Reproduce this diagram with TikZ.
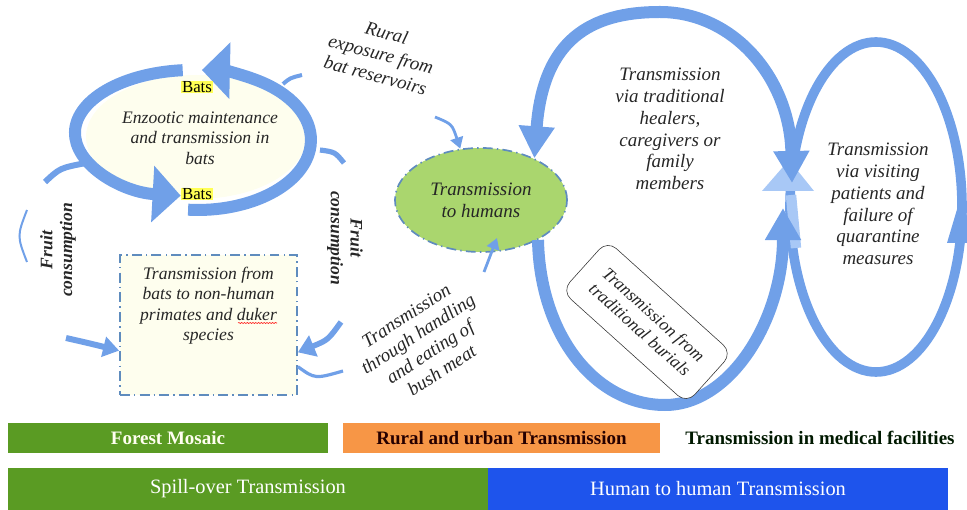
\documentclass[tikz,border=0pt]{standalone}
\usepackage{fontspec}
\setmainfont{Liberation Serif}
\usetikzlibrary{arrows.meta,shapes.geometric,decorations.pathmorphing}
\definecolor{bandblue}{RGB}{112,160,232}
\definecolor{bandlight}{RGB}{168,200,246}
\definecolor{blobgreen}{RGB}{170,214,110}
\definecolor{cream}{RGB}{254,254,238}
\definecolor{dashblue}{RGB}{95,140,190}
\definecolor{bargreen}{RGB}{90,155,35}
\definecolor{barorange}{RGB}{247,150,70}
\definecolor{barblue}{RGB}{30,84,236}
\definecolor{batyellow}{RGB}{255,255,85}

\begin{document}
\begin{tikzpicture}[x=0.025cm,y=-0.025cm,
  lbl/.style={font=\fontsize{12.5}{14.6}\selectfont\itshape,align=center,text=black!85},
  looplbl/.style={font=\fontsize{13.5}{15.5}\selectfont\itshape,align=center,text=black!85},
  fruit/.style={font=\fontsize{12.5}{14}\selectfont\bfseries\itshape,align=center,text=black!85},
  bats/.style={fill=batyellow,inner sep=0.5pt,font=\fontsize{12}{12}\selectfont},
  band/.style={draw=bandblue,line width=0.3cm},
  dashdotted box/.style={draw=dashblue,line width=1.2pt,dash pattern=on 7pt off 3pt on 1pt off 3pt},
  bar/.style={minimum height=0.75cm,inner sep=0pt,font=\fontsize{13.5}{14}\selectfont\bfseries},
  widebar/.style={minimum height=1.05cm,inner sep=0pt,text=white,font=\fontsize{14.5}{15}\selectfont}]
\useasboundingbox (0,0) rectangle (967,510);

\fill[cream] (196,137) ellipse[x radius=110,y radius=62];
\draw[band,-{Triangle[width=1.375cm,length=0.7cm]}] (182.7,70.2) arc[start angle=265,end angle=96,x radius=118,y radius=63];
\draw[band,-{Triangle[width=1.375cm,length=0.7cm]}] (188.1,209.7) arc[start angle=95,end angle=-88,x radius=113,y radius=70];
\draw[draw=bandblue,line width=0.15cm] (45,182) .. controls (60,168) .. (86,163);
\draw[draw=bandblue,line width=0.1cm] (283,84) .. controls (290,78) .. (302,75);
\draw[draw=bandblue,line width=0.13cm] (320,150) .. controls (335,152) .. (344,163);
\draw[draw=bandblue,line width=0.05cm] (27,210) .. controls (17,236) .. (27,262);

\node[bats] (batstop) at (197,87) {Bats};
\node[bats] (batsbottom) at (197,194) {Bats};
\node[lbl] (enzootic) at (200,138) {Enzootic maintenance\\and transmission in\\bats};

\node[dashdotted box,fill=cream,minimum width=4.425cm,minimum height=3.5cm] (box) at (208.5,325) {};
\node[lbl,anchor=north] (boxtext) at (208.5,262) {Transmission from\\bats to non-human\\primates and duker\\species};
\draw[red,decorate,decoration={snake,amplitude=0.35pt,segment length=2pt}] (238,323) -- (277,323);
\draw[draw=bandblue,line width=0.15cm,-{Triangle[width=0.5cm,length=0.4cm]}] (66,338) .. controls (88,343) .. (box.196);
\draw[draw=bandblue,line width=0.14cm,-{Triangle[width=0.55cm,length=0.42cm]}] (341,322) .. controls (328,340) .. (box.343);
\draw[draw=bandblue,line width=0.08cm] (box.335) .. controls (315,379) .. (343,371);

\node[fruit,rotate=90] (fruitleft) at (58,250) {Fruit\\consumption};
\node[fruit,rotate=-90] (fruitright) at (345,238) {Fruit\\consumption};

\draw[draw=bandblue,line width=0.24cm] (876,207) ellipse[x radius=86,y radius=165];
\draw[draw=bandlight,line width=0.26cm] (791,195) -- (796,248);
\fill[bandlight] (789,160) -- (762,191) -- (814,191) -- cycle;
\fill[bandblue] (961,196) -- (947,243) -- (975,243) -- cycle;

\node[ellipse,fill=blobgreen,dashdotted box,minimum width=4.3cm,minimum height=2.6cm,looplbl] (humans) at (481,200) {Transmission\\to humans};
\coordinate (joinA) at (792,183);
\coordinate (joinB) at (783,208);
\draw[band,-{Triangle[width=0.85cm,length=0.8cm]}] (humans.-35) .. controls (540,335) and (595,405) .. (665,405) .. controls (730,405) and (783,320) .. (joinB);
\draw[band,{Triangle[width=0.85cm,length=0.8cm]}-{Triangle[width=0.85cm,length=0.8cm]}] (humans.38) .. controls (543,40) and (590,12) .. (660,12) .. controls (735,12) and (790,80) .. (joinA);

\node[looplbl,rotate=-15] (rural) at (381,54) {Rural\\exposure from\\bat reservoirs};
\coordinate (ruraltail) at (435,117);
\draw[draw=bandblue,line width=0.07cm,-{Triangle[width=0.32cm,length=0.28cm]}] (ruraltail) .. controls (452,124) .. (humans.112);
\node[looplbl,rotate=33] (bushmeat) at (424,343) {Transmission\\through handling\\and eating of\\bush meat};
\coordinate (meattail) at (484,272);
\coordinate (meathead) at (497,238);
\draw[draw=bandblue,line width=0.07cm,-{Triangle[width=0.32cm,length=0.28cm]}] (meattail) -- (meathead);

\node[looplbl] (healers) at (670,129) {Transmission\\via traditional\\healers,\\caregivers or\\family\\members};
\node[looplbl] (visiting) at (878,204) {Transmission\\via visiting\\patients and\\failure of\\quarantine\\measures};
\node[draw=black!80,fill=white,rounded corners=0.3cm,rotate=-42,minimum width=4.2cm,minimum height=1.7cm,lbl] (burials) at (647,322) {Transmission from\\traditional burials};

\node[bar,fill=bargreen,minimum width=8cm,text=white!94!yellow] (forest) at (168,438) {Forest Mosaic};
\node[bar,fill=barorange,minimum width=7.925cm,text=black!85!red] (ruralurban) at (501.5,438) {Rural and urban Transmission};
\node[bar,text=black!90!green] (medical) at (820,438) {Transmission in medical facilities};
\node[widebar,fill=bargreen,minimum width=12cm] (spillover) at (248,489) {Spill-over Transmission};
\node[widebar,fill=barblue,minimum width=11.5cm] (humanhuman) at (718,489) {Human to human Transmission};
\end{tikzpicture}
\end{document}
